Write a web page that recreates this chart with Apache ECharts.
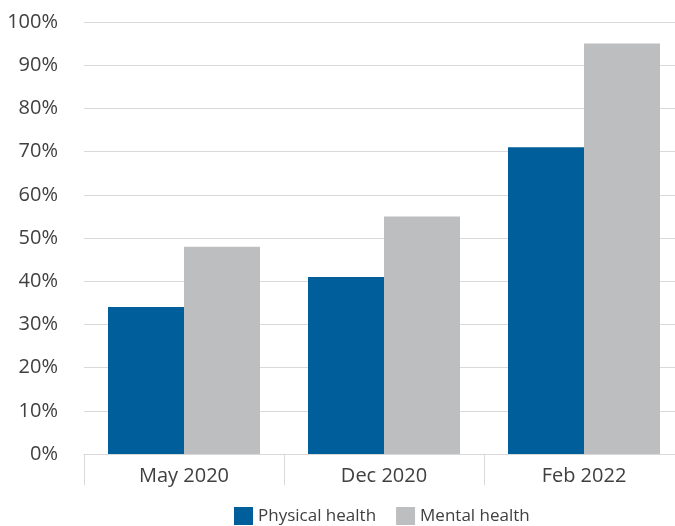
<!DOCTYPE html>
<html><head><meta charset="utf-8">
<script src="https://cdn.jsdelivr.net/npm/echarts@6/dist/echarts.min.js"></script>
<style>html,body{margin:0;padding:0;background:#fff}#c{width:675px;height:526px}</style>
</head><body><div id="c"></div>
<script>
const categories = ['May 2020', 'Dec 2020', 'Feb 2022'];
const physical = [34, 41, 71];
const mental = [48, 55, 95];
const yTicks = [0, 10, 20, 30, 40, 50, 60, 70, 80, 90, 100];

const chart = echarts.init(document.getElementById('c'), null, {renderer: 'canvas'});
const font = '"Open Sans", "Noto Sans", sans-serif';
chart.setOption({
  animation: false,
  grid: {left: 84, width: 600, top: 22, height: 432, containLabel: false, outerBoundsMode: 'none'},
  legend: {
    top: 507, left: 234, itemWidth: 19, itemHeight: 18, itemGap: 20,
    icon: 'rect', padding: 0,
    textStyle: {fontFamily: font, fontSize: 17, color: '#404040'},
    data: ['Physical health', 'Mental health']
  },
  xAxis: {
    type: 'category', data: categories,
    axisLine: {lineStyle: {color: '#d9d9d9', width: 1}},
    axisTick: {show: true, length: 31, lineStyle: {color: '#d9d9d9'}},
    axisLabel: {fontFamily: font, fontSize: 20, color: '#404040', margin: 12}
  },
  yAxis: {
    type: 'value', min: yTicks[0], max: yTicks[yTicks.length-1], interval: 10,
    axisLine: {show: false}, axisTick: {show: false},
    splitLine: {lineStyle: {color: '#d9d9d9', width: 1}},
    axisLabel: {fontFamily: font, fontSize: 20, color: '#404040', margin: 26, formatter: '{value}%'}
  },
  series: [
    {name: 'Physical health', type: 'bar', data: physical, barWidth: 76, barGap: '0%',
     itemStyle: {color: '#005f9a'}},
    {name: 'Mental health', type: 'bar', data: mental, barWidth: 76, barGap: '0%',
     itemStyle: {color: '#bdbec0'}}
  ]
});
</script></body></html>
